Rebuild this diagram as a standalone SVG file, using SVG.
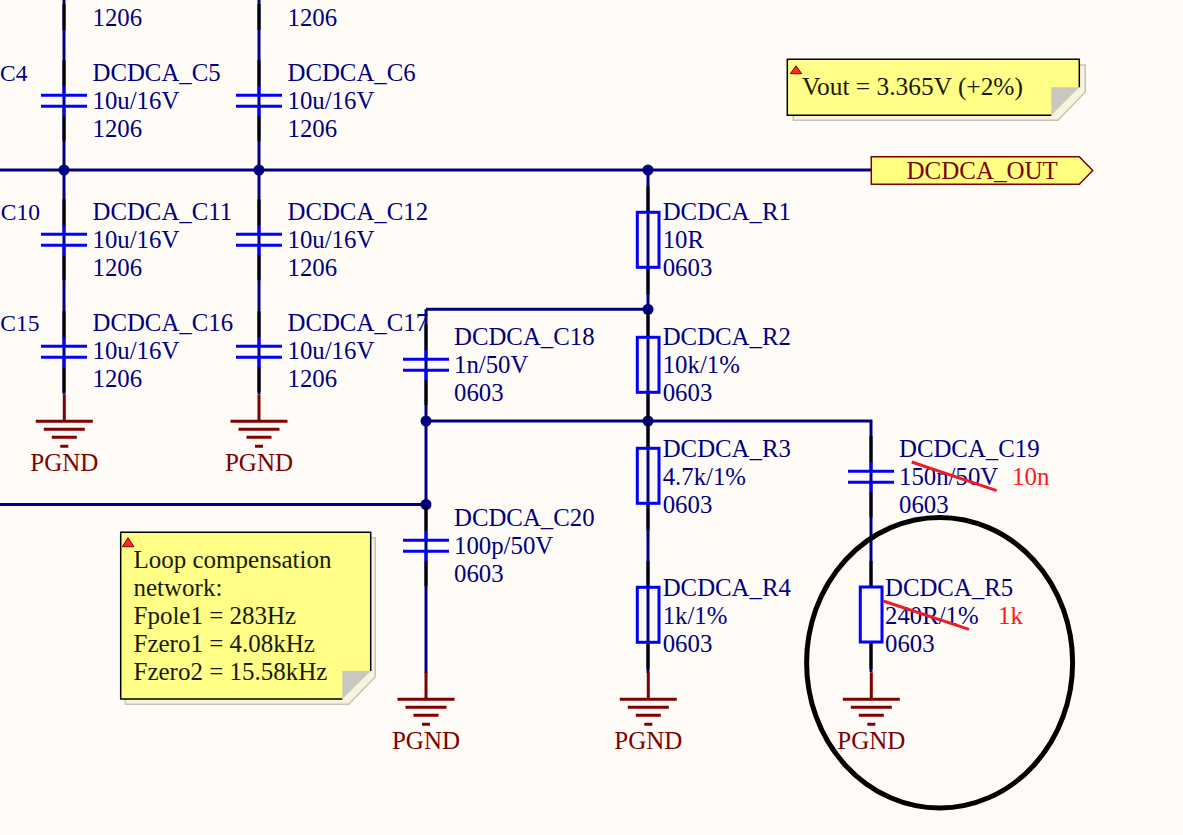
<svg xmlns="http://www.w3.org/2000/svg" xmlns:xlink="http://www.w3.org/1999/xlink" width="1183" height="835" viewBox="0 0 1183 835">
<style>
text{font-family:"Liberation Serif","Times New Roman",serif;font-size:25px}
.d{fill:#000080;font-size:24.800px}.m{fill:#800000;}.r{fill:#ff1a1a}.n{fill:#1a1a00}
.f{fill:#000080;font-size:23.500px}
.w{stroke:#000080;stroke-width:3;fill:none}
.k{stroke:#000;stroke-width:3;fill:none}
.b{stroke:#0000ff;stroke-width:3;fill:none}
.g{stroke:#800000;stroke-width:3;fill:none}
.x{stroke:#ee1c25;stroke-width:3;fill:none}
.j{fill:#000080}
.shadow{fill:#f6f3e0;stroke:#c6c3b8;stroke-width:1.5}
.paper{fill:#ffff88}
.fold{fill:#c9c7c0}
.tri{fill:#ff2a1a;stroke:#800000;stroke-width:1}
</style>
<defs>
<g id="cap">
<path class="k" d="M0-35V-9M0 21V46"/>
<path class="b" d="M0-9V0M0 11V21M-23 0H23M-23 11H23"/>
</g>
<g id="res">
<path class="k" d="M0-26V0M0 55V82"/>
<rect class="b" x="-10.7" y="0" width="21.7" height="55"/>
</g>
<g id="gnd">
<path class="g" d="M0-27V0M-28.5 0H28.5M-20.500 8H20.500M-12.500 16H12.500M-4 25H4"/>
</g>
</defs>
<rect width="1183" height="835" fill="#fffcf8"/>

<g id="connectors">
<path class="w" d="M0 170H871M0 504.500H426M426 309.300H648M426 421H871V587M64 0V394M259 0V394M426 309.300V673M648 170V673M871 642V672"/>
<path class="k" d="M64 4V30M259 4V30"/>
<circle class="j" cx="64" cy="170" r="5.500"/><circle class="j" cx="259" cy="170" r="5.500"/><circle class="j" cx="648" cy="170" r="5.500"/><circle class="j" cx="648" cy="309.300" r="5.500"/><circle class="j" cx="426" cy="421" r="5.500"/><circle class="j" cx="648" cy="421" r="5.500"/><circle class="j" cx="426" cy="504.500" r="5.500"/>
</g>

<g id="C4-label"><text class="f" x="27.500" y="81" text-anchor="end">C4</text></g>
<g id="C10-label"><text class="f" x="40" y="220" text-anchor="end">C10</text></g>
<g id="C15-label"><text class="f" x="39.500" y="331" text-anchor="end">C15</text></g>

<g id="top-left-1206"><text class="d" x="92.500" y="26">1206</text></g>
<g id="top-right-1206"><text class="d" x="287.500" y="26">1206</text></g>

<g id="DCDCA_C5"><use href="#cap" x="64" y="95.300"/><text class="d" x="92.500" y="81">DCDCA_C5</text><text class="d" x="92.500" y="109">10u/16V</text><text class="d" x="92.500" y="137">1206</text></g>
<g id="DCDCA_C6"><use href="#cap" x="259" y="95.300"/><text class="d" x="287.500" y="81">DCDCA_C6</text><text class="d" x="287.500" y="109">10u/16V</text><text class="d" x="287.500" y="137">1206</text></g>
<g id="DCDCA_C11"><use href="#cap" x="64" y="234.300"/><text class="d" x="92.500" y="220">DCDCA_C11</text><text class="d" x="92.500" y="248">10u/16V</text><text class="d" x="92.500" y="276">1206</text></g>
<g id="DCDCA_C12"><use href="#cap" x="259" y="234.300"/><text class="d" x="287.500" y="220">DCDCA_C12</text><text class="d" x="287.500" y="248">10u/16V</text><text class="d" x="287.500" y="276">1206</text></g>
<g id="DCDCA_C16"><use href="#cap" x="64" y="346.300"/><text class="d" x="92.500" y="331">DCDCA_C16</text><text class="d" x="92.500" y="359">10u/16V</text><text class="d" x="92.500" y="387">1206</text></g>
<g id="DCDCA_C17"><use href="#cap" x="259" y="346.300"/><text class="d" x="287.500" y="331">DCDCA_C17</text><text class="d" x="287.500" y="359">10u/16V</text><text class="d" x="287.500" y="387">1206</text></g>
<g id="DCDCA_C18"><use href="#cap" x="426" y="359.300"/><text class="d" x="454" y="345">DCDCA_C18</text><text class="d" x="454" y="373">1n/50V</text><text class="d" x="454" y="401">0603</text></g>
<g id="DCDCA_C20"><use href="#cap" x="426" y="540.300"/><text class="d" x="454" y="526">DCDCA_C20</text><text class="d" x="454" y="554">100p/50V</text><text class="d" x="454" y="582">0603</text></g>
<g id="DCDCA_C19"><use href="#cap" x="871" y="471.300"/><text class="d" x="899" y="457">DCDCA_C19</text><text class="d" x="899" y="485">150n/50V</text><text class="d" x="899" y="512.500">0603</text><path class="x" d="M911.700 462L996.700 490.700"/><text class="r" x="1012" y="485">10n</text></g>

<g id="DCDCA_R1"><use href="#res" x="648" y="212.300"/><text class="d" x="662.700" y="220">DCDCA_R1</text><text class="d" x="662.700" y="248">10R</text><text class="d" x="662.700" y="276">0603</text></g>
<g id="DCDCA_R2"><use href="#res" x="648" y="337.300"/><text class="d" x="662.700" y="345">DCDCA_R2</text><text class="d" x="662.700" y="373">10k/1%</text><text class="d" x="662.700" y="401">0603</text></g>
<g id="DCDCA_R3"><use href="#res" x="648" y="448.300"/><text class="d" x="662.700" y="457">DCDCA_R3</text><text class="d" x="662.700" y="485">4.7k/1%</text><text class="d" x="662.700" y="512.500">0603</text></g>
<g id="DCDCA_R4"><use href="#res" x="648" y="587.300"/><text class="d" x="662.700" y="596">DCDCA_R4</text><text class="d" x="662.700" y="624">1k/1%</text><text class="d" x="662.700" y="652">0603</text></g>
<g id="DCDCA_R5"><use href="#res" x="871" y="587"/><text class="d" x="885" y="596">DCDCA_R5</text><text class="d" x="885" y="624">240R/1%</text><text class="d" x="885" y="652">0603</text><path class="x" d="M883.300 601L969 629.300"/><text class="r" x="998" y="624">1k</text></g>

<g id="PGND1"><use href="#gnd" x="64.300" y="421.300"/><text class="m" x="64.300" y="471" text-anchor="middle">PGND</text></g>
<g id="PGND2"><use href="#gnd" x="259" y="421.300"/><text class="m" x="259" y="471" text-anchor="middle">PGND</text></g>
<g id="PGND3"><use href="#gnd" x="426" y="699.300"/><text class="m" x="426" y="748.500" text-anchor="middle">PGND</text></g>
<g id="PGND4"><use href="#gnd" x="648.300" y="699.300"/><text class="m" x="648.300" y="748.500" text-anchor="middle">PGND</text></g>
<g id="PGND5"><use href="#gnd" x="871.300" y="699.300"/><text class="m" x="871.300" y="748.500" text-anchor="middle">PGND</text></g>

<g id="DCDCA_OUT"><path d="M871.300 156.700H1079.300L1092.700 170.500L1079.300 184.300H871.300Z" fill="#ffff80" stroke="#800000" stroke-width="1.500"/><text class="m" x="906.500" y="178.700">DCDCA_OUT</text></g>

<g id="note-vout">
<path class="shadow" d="M793.300 120.300V65H1085.300V92L1058 120.300Z"/>
<path class="paper" d="M787.300 59.300H1079.300V87.300L1051.300 115.300H787.300Z"/>
<path class="fold" d="M1051.300 87.300H1079.300L1051.300 115.300Z"/>
<path fill="none" stroke="#000" stroke-width="1.500" d="M1079.300 87.300V59.300H787.300V115.300H1051.300"/>
<path class="tri" d="M790.300 73.700H801.700L796 65.700Z"/>
<text class="n" x="802" y="95" style="font-size:25.400px">Vout = 3.365V (+2%)</text>
</g>

<g id="note-loop">
<path class="shadow" d="M125.300 704.300V537.700H375.300V676.700L348.700 704.300Z"/>
<path class="paper" d="M120.700 532.300H370.700V671L342.300 699H120.700Z"/>
<path class="fold" d="M342.300 671H370.700L342.300 699Z"/>
<path fill="none" stroke="#000" stroke-width="1.500" d="M370.700 671V532.300H120.700V699H342.300"/>
<path class="tri" d="M122.300 546.700H134L128 537.700Z"/>
<text class="n" x="133.500" y="568">Loop compensation</text>
<text class="n" x="133.500" y="596">network:</text>
<text class="n" x="133.500" y="624">Fpole1 = 283Hz</text>
<text class="n" x="133.500" y="652">Fzero1 = 4.08kHz</text>
<text class="n" x="133.500" y="679.500">Fzero2 = 15.58kHz</text>
</g>

<ellipse id="highlight" cx="939.600" cy="662.700" rx="133" ry="145.300" fill="none" stroke="#000" stroke-width="5"/>
</svg>
